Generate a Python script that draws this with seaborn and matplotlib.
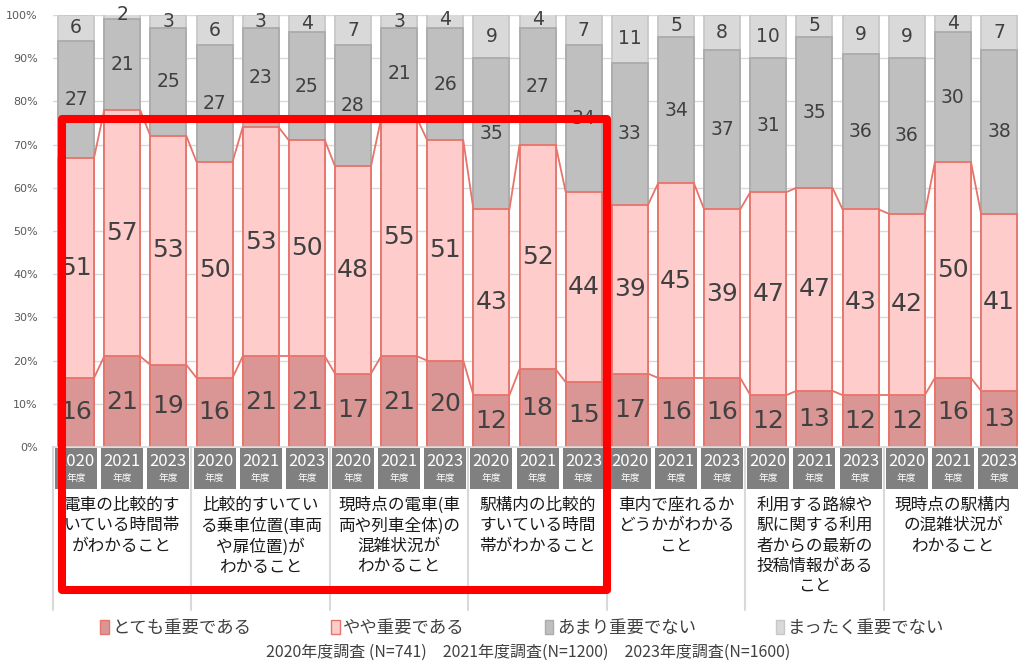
#! /usr/bin/env python3
# -*- coding: utf-8 -*-

import numpy as np
import pandas as pd
import matplotlib
matplotlib.use('Agg')
import matplotlib.pyplot as plt
import matplotlib.transforms as mtransforms
from matplotlib.patches import Patch, Rectangle
import seaborn as sns


###DATA###
groups = ['電車の比較的す\nいている時間帯\nがわかること',
          '比較的すいてい\nる乗車位置(車両\nや扉位置)が\nわかること',
          '現時点の電車(車\n両や列車全体)の\n混雑状況が\nわかること',
          '駅構内の比較的\nすいている時間\n帯がわかること',
          '車内で座れるか\nどうかがわかる\nこと',
          '利用する路線や\n駅に関する利用\n者からの最新の\n投稿情報がある\nこと',
          '現時点の駅構内\nの混雑状況が\nわかること']
years = ['2020', '2021', '2023']
levels = ['とても重要である', 'やや重要である', 'あまり重要でない', 'まったく重要でない']

very = [16, 21, 19, 16, 21, 21, 17, 21, 20, 12, 18, 15, 17, 16, 16, 12, 13, 12, 12, 16, 13]
somewhat = [51, 57, 53, 50, 53, 50, 48, 55, 51, 43, 52, 44, 39, 45, 39, 47, 47, 43, 42, 50, 41]
notvery = [27, 21, 25, 27, 23, 25, 28, 21, 26, 35, 27, 34, 33, 34, 37, 31, 35, 36, 36, 30, 38]
notatall = [6, 2, 3, 6, 3, 4, 7, 3, 4, 9, 4, 7, 11, 5, 8, 10, 5, 9, 9, 4, 7]

note = '2020年度調査 (N=741)　2021年度調査(N=1200)　2023年度調査(N=1600)'

#Colours
fills = ['#D99694', '#FFCCCC', '#BFBFBF', '#D9D9D9']
edges = ['#E8736A', '#E8736A', '#ABABAB', '#C8C8C8']


#####MAIN#####
sns.set_theme(style='white')
plt.rcParams['font.family'] = ['DejaVu Sans', 'Noto Sans CJK JP']

n = len(very)
pos = np.arange(n)
vals = np.array([very, somewhat, notvery, notatall], dtype=float)
cum = np.cumsum(vals, axis=0)
cum[3] = np.maximum(cum[3], 100)  #shares add up to 100%
bottoms = np.vstack([np.zeros(n), cum[:3]])

W, H = 1018, 663
fig = plt.figure(figsize=(W/100, H/100), dpi=100)
ax_left, ax_bottom, ax_top = 53, 447, 15
step = 46.15
ax = fig.add_axes([ax_left/W, 1-ax_bottom/H, step*n/W, (ax_bottom-ax_top)/H])

bw = 0.78
#Overlay cumulative bars, tallest first
for k in [3, 2, 1, 0]:
	df = pd.DataFrame({'pos': pos, 'val': cum[k]})
	sns.barplot(data=df, x='pos', y='val', color=fills[k], edgecolor=edges[k],
	            linewidth=1.3, width=bw, errorbar=None, saturation=1, ax=ax, zorder=2)

#Series lines for the two pink series
for k in [0, 1]:
	for i in range(n-1):
		ax.plot([i+bw/2, i+1-bw/2], [cum[k][i], cum[k][i+1]], color=edges[k], lw=1.3, zorder=2)

#Data labels
for k in range(4):
	fs = 18 if k < 2 else 13.5
	for i in range(n):
		mid = (bottoms[k][i] + cum[k][i]) / 2
		ax.text(i, mid, '%d' % vals[k][i], ha='center', va='center', fontsize=fs,
		        color='#404040', zorder=3, clip_on=False)

ax.set_xlim(-0.5, n-0.5)
ax.set_ylim(0, 100)
ax.set_yticks(np.arange(0, 101, 10))
ax.set_yticklabels(['%d%%' % t for t in range(0, 101, 10)], fontsize=8, color='#595959')
ax.tick_params(axis='y', length=0, pad=11)
ax.set_xticks([])
ax.set_xlabel('')
ax.set_ylabel('')
ax.grid(axis='y', color='#D9D9D9', lw=1)
ax.set_axisbelow(True)
for s in ['left', 'right', 'top']:
	ax.spines[s].set_visible(False)
ax.spines['bottom'].set_color('#D9D9D9')
ax.spines['bottom'].set_linewidth(1.2)

#Category axis: year boxes, group labels, separators
px = 1.0/(ax_bottom-ax_top)
trans = mtransforms.blended_transform_factory(ax.transData, ax.transAxes)
for i in range(n):
	box = Rectangle((i-0.455, -42*px), 0.91, 41*px, transform=trans, facecolor='#808080',
	                edgecolor='none', clip_on=False)
	ax.add_patch(box)
	ax.text(i, -15*px, years[i % 3], transform=trans, ha='center', va='center', fontsize=12,
	        color='white', family=['Noto Sans CJK JP'], clip_on=False)
	ax.text(i, -31*px, '年度', transform=trans, ha='center', va='center', fontsize=7,
	        color='white', family=['Noto Sans CJK JP'], clip_on=False)

for g, label in enumerate(groups):
	ax.text(g*3+1, -50*px, label, transform=trans, ha='center', va='top', fontsize=12,
	        linespacing=1.25, color='#1a1a1a', family=['Noto Sans CJK JP'], clip_on=False)

for g in range(len(groups)+1):
	ax.plot([g*3-0.5, g*3-0.5], [0, -163*px], transform=trans, color='#D9D9D9', lw=1.5,
	        clip_on=False)

#Highlight box
hl = Rectangle((61.5/W, 1-590/H), (606.5-61.5)/W, (590-118.5)/H, transform=fig.transFigure,
               facecolor='none', edgecolor='#FF0000', lw=5.8, joinstyle='round', zorder=10)
fig.patches.append(hl)

#Legend
handles = [Patch(facecolor=fills[k], edgecolor=edges[k], lw=1) for k in range(4)]
fig.legend(handles, levels, ncol=4, loc='center', bbox_to_anchor=(0.513, 1-628/H), frameon=False,
           handlelength=0.5, handleheight=0.9, handletextpad=0.2, columnspacing=4.6,
           prop={'family': ['Noto Sans CJK JP'], 'size': 12.5}, labelcolor='#404040')

fig.text(528/W, 1-652/H, note, ha='center', va='center', fontsize=11.5, color='#404040',
         family=['Noto Sans CJK JP'])

fig.savefig('out.png', dpi=100)
plt.close()
